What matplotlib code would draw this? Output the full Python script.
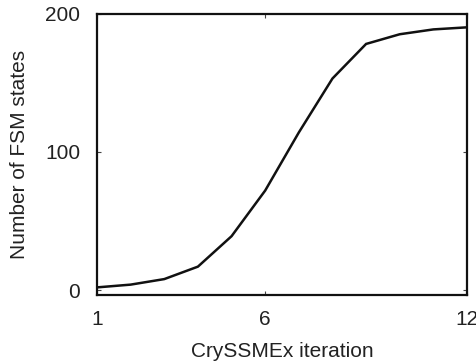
import matplotlib
matplotlib.use("Agg")
import matplotlib.pyplot as plt

iterations = [1, 2, 3, 4, 5, 6, 7, 8, 9, 10, 11, 12]
states = [2, 4, 8, 17, 39, 72, 114, 153, 178, 185, 188.5, 190]
xticks = [1, 6, 12]
yticks = [0, 100, 200]

plt.rcParams['font.family'] = ['Liberation Sans', 'DejaVu Sans']

fig = plt.figure(figsize=(4.76, 3.64), dpi=100)
ax = fig.add_axes([97/476, 1 - 295/364, (467 - 97)/476, (295 - 13.5)/364])
ax.plot(iterations, states, color='#111111', linewidth=1.8, solid_joinstyle='miter')
ax.set_xlim(1, 12)
ax.set_ylim(-3.5, 200)
ax.set_xticks(xticks)
ax.set_yticks(yticks)
ax.tick_params(direction='in', length=3, width=0.8, labelsize=15, color='#444444',
               top=True, right=True)
ax.tick_params(axis='x', pad=11)
ax.tick_params(axis='y', pad=12)
for s in ax.spines.values():
    s.set_linewidth(1.6)
    s.set_color('#111111')
ax.set_xlabel('CrySSMEx iteration', fontsize=15, color='#222222', labelpad=9)
ax.set_ylabel('Number of FSM states', fontsize=15, color='#222222', labelpad=12)
for lab in ax.get_xticklabels() + ax.get_yticklabels():
    lab.set_color('#222222')
fig.savefig('out.png', dpi=100)
